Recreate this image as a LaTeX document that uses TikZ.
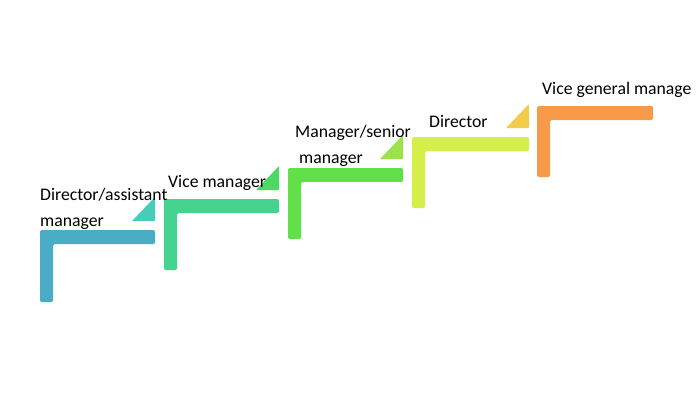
\documentclass[tikz,border=0pt]{standalone}
\usepackage{fontspec}
\setmainfont{Carlito}
\definecolor{cA}{HTML}{4BACC6}
\definecolor{tA}{HTML}{4ACDB8}
\definecolor{cB}{HTML}{48D28F}
\definecolor{tB}{HTML}{4CD966}
\definecolor{cC}{HTML}{62E04A}
\definecolor{tC}{HTML}{9BE34A}
\definecolor{cD}{HTML}{D6EE48}
\definecolor{tD}{HTML}{F2CC4A}
\definecolor{cE}{HTML}{F79A4A}
\tikzset{
  stepL/.style={fill=#1, draw=none, rounded corners=1.5pt},
  tri/.style={fill=#1, draw=none, rounded corners=0.8pt},
  lbl/.style={anchor=base west, inner sep=0pt, font=\fontsize{17.7}{21}\selectfont, text=black}
}
\begin{document}
\begin{tikzpicture}[x=1pt,y=-1pt]
\useasboundingbox (0,0) rectangle (700,400);
\fill[white] (0,0) rectangle (700,400);
% step shapes: x0, top, right, bottom
\foreach \xa/\ta/\ra/\ba/\col in {40/230/155/302/cA, 164/199/279/270/cB, 288/168/403/239/cC, 412/137/529/208/cD, 537/106/653/177/cE}{
  \fill[stepL=\col] (\xa,\ta) -- (\ra,\ta) -- (\ra,\ta+14) -- (\xa+13,\ta+14) -- (\xa+13,\ba) -- (\xa,\ba) -- cycle;
}
\foreach \ta/\ra/\col in {230/155/tA, 199/279/tB, 168/403/tC, 137/529/tD}{
  \fill[tri=\col] (\ra-23,\ta-9) -- (\ra,\ta-9) -- (\ra,\ta-33) -- cycle;
}
\node[lbl] (l1a) at (40,200.5) {Director/assistant};
\node[lbl] (l1b) at (40,226) {manager};
\node[lbl] (l2) at (168,187) {Vice manager};
\node[lbl] (l3a) at (295,137) {Manager/senior};
\node[lbl] (l3b) at (299,163) {manager};
\node[lbl] (l4) at (429,127) {Director};
\node[lbl] (l5) at (542,94) {Vice general manage};
\end{tikzpicture}
\end{document}
